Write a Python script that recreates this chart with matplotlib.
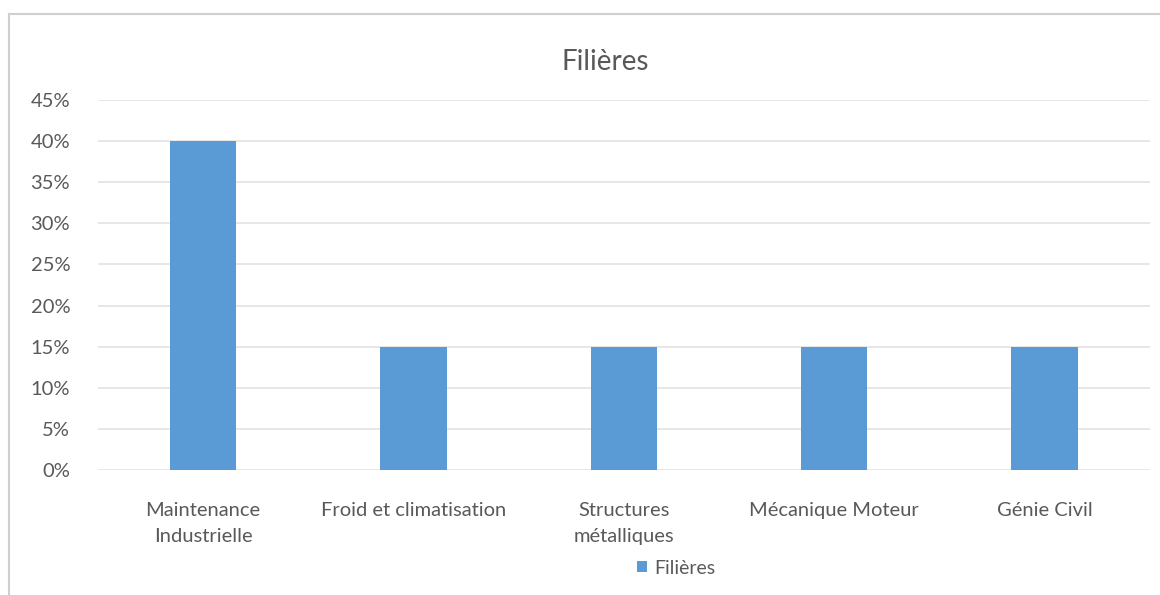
import matplotlib
matplotlib.use("Agg")
import matplotlib.pyplot as plt
from matplotlib.lines import Line2D
from matplotlib.ticker import FuncFormatter, MultipleLocator

categories = ["Maintenance\nIndustrielle", "Froid et climatisation",
              "Structures\nmétalliques", "Mécanique Moteur", "Génie Civil"]
shares = [0.40, 0.15, 0.15, 0.15, 0.15]
series_name = "Filières"

plt.rcParams['font.family'] = ['Lato', 'DejaVu Sans']
grey = '#595959'
bar_colour = '#5b9bd5'

fig = plt.figure(figsize=(11.6, 5.95), dpi=100)
ax = fig.add_axes([0.0845, 0.21, 0.9065, 0.622])

x = range(len(categories))
ax.bar(x, shares, width=0.315, color=bar_colour, label=series_name, zorder=3)

ax.set_xlim(-0.5, len(categories) - 0.5)
ax.set_ylim(0, 0.45)
ax.yaxis.set_major_locator(MultipleLocator(0.05))
ax.yaxis.set_major_formatter(FuncFormatter(lambda v, p: f"{v*100:.0f}%"))
ax.grid(axis='y', color='#e3e3e3', lw=1.2, zorder=0)
for s in ax.spines.values():
    s.set_visible(False)
ax.tick_params(axis='both', length=0, colors=grey)
ax.tick_params(axis='x', pad=23, labelsize=14.5)
ax.tick_params(axis='y', pad=20, labelsize=14.5)
ax.set_xticks(list(x))
ax.set_xticklabels(categories, linespacing=1.65, va='top')

fig.text(0.522, 0.895, series_name, ha='center', va='center',
         fontsize=20, color=grey)

ax.legend(loc='center', bbox_to_anchor=(0.583, 0.045), bbox_transform=fig.transFigure,
          frameon=False, fontsize=14, handlelength=0.5, handleheight=0.5,
          handletextpad=0.4, labelcolor=grey)

# outer chart frame
fig.add_artist(Line2D([9/1160, 1], [1 - 14/595, 1 - 14/595], color='#cfcfcf', lw=1.5,
                      transform=fig.transFigure))
fig.add_artist(Line2D([9/1160, 9/1160], [0, 1 - 14/595], color='#cfcfcf', lw=1.5,
                      transform=fig.transFigure))

fig.savefig("out.png", dpi=100)
